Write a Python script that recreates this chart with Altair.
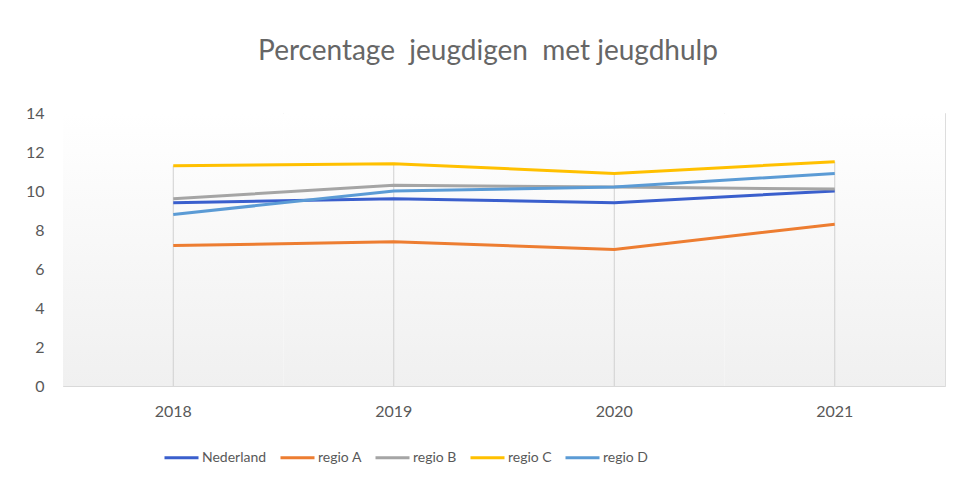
import altair as alt
import pandas as pd

years = ["2018", "2019", "2020", "2021"]
series = ["Nederland", "regio A", "regio B", "regio C", "regio D"]
nederland = [9.4, 9.6, 9.4, 10.0]
regio_a = [7.2, 7.4, 7.0, 8.3]
regio_b = [9.6, 10.3, 10.2, 10.1]
regio_c = [11.3, 11.4, 10.9, 11.5]
regio_d = [8.8, 10.0, 10.2, 10.9]
colors = ["#3a5fcd", "#ED7D31", "#A5A5A5", "#FFC000", "#5B9BD5"]
y_ticks = [0, 2, 4, 6, 8, 10, 12, 14]

values = [nederland, regio_a, regio_b, regio_c, regio_d]
rows = []
for name, vals in zip(series, values):
    for yr, v in zip(years, vals):
        rows.append({"year": yr, "series": name, "value": v})
df = pd.DataFrame(rows)
years_df = pd.DataFrame({"year": years})

FONT = "Lato"
GREY = "#595959"

x_scale = alt.Scale(type="band", domain=years, paddingInner=0, paddingOuter=0)
y_scale = alt.Scale(domain=[0, 14], nice=False)

x_axis = alt.Axis(labelAngle=0, ticks=False, grid=False, domain=True,
                  domainColor="#d9d9d9", domainWidth=1,
                  labelPadding=17, labelFontSize=16, labelColor=GREY,
                  labelFont=FONT, title=None)
y_axis = alt.Axis(values=y_ticks, ticks=False, domain=False, grid=False,
                  labelPadding=19, labelFontSize=16, labelColor=GREY,
                  labelFont=FONT, labelOverlap=False, title=None)

bg = alt.Chart(years_df).mark_rect(
    color=alt.Gradient(
        gradient="linear",
        stops=[alt.GradientStop(color="#ffffff", offset=0),
               alt.GradientStop(color="#f0f0f0", offset=1)],
        x1=0, x2=0, y1=0, y2=1,
    ),
    strokeWidth=0,
).encode(
    x=alt.X("year:O", scale=x_scale, axis=x_axis),
    y=alt.datum(14, scale=y_scale, axis=y_axis),
    y2=alt.datum(0),
)

drops = alt.Chart(df).mark_rule(color="#d0d0d0", strokeWidth=1).encode(
    x=alt.X("year:O", scale=x_scale, bandPosition=0.5, axis=x_axis),
    y=alt.Y("max(value):Q", scale=y_scale, axis=y_axis),
    y2=alt.datum(0),
)

lines = alt.Chart(df).mark_line(strokeWidth=3).encode(
    x=alt.X("year:O", scale=x_scale, bandPosition=0.5, axis=x_axis),
    y=alt.Y("value:Q", scale=y_scale, axis=y_axis),
    color=alt.Color("series:N", scale=alt.Scale(domain=series, range=colors),
                    sort=series,
                    legend=alt.Legend(title=None, orient="none", direction="horizontal",
                                      legendX=100, legendY=326, symbolType="stroke",
                                      symbolStrokeWidth=3, symbolSize=1156,
                                      labelFontSize=14, labelColor=GREY, labelFont=FONT,
                                      labelOffset=2, columnPadding=7, padding=0,
                                      columns=5)),
    detail="series:N",
)

chart = alt.layer(bg, drops, lines).properties(
    width=882,
    height=273,
    padding={"left": 17, "top": 30, "right": 4, "bottom": 0},
    title=alt.TitleParams(
        "Percentage \u00a0jeugdigen \u00a0met jeugdhulp",
        font=FONT, fontSize=28, fontWeight="normal", color="#666666", offset=39,
        dx=-16,
    ),
).configure_view(stroke=None).configure(background="white")

chart.save("out.html", embed_options={"renderer": "svg", "actions": False})
